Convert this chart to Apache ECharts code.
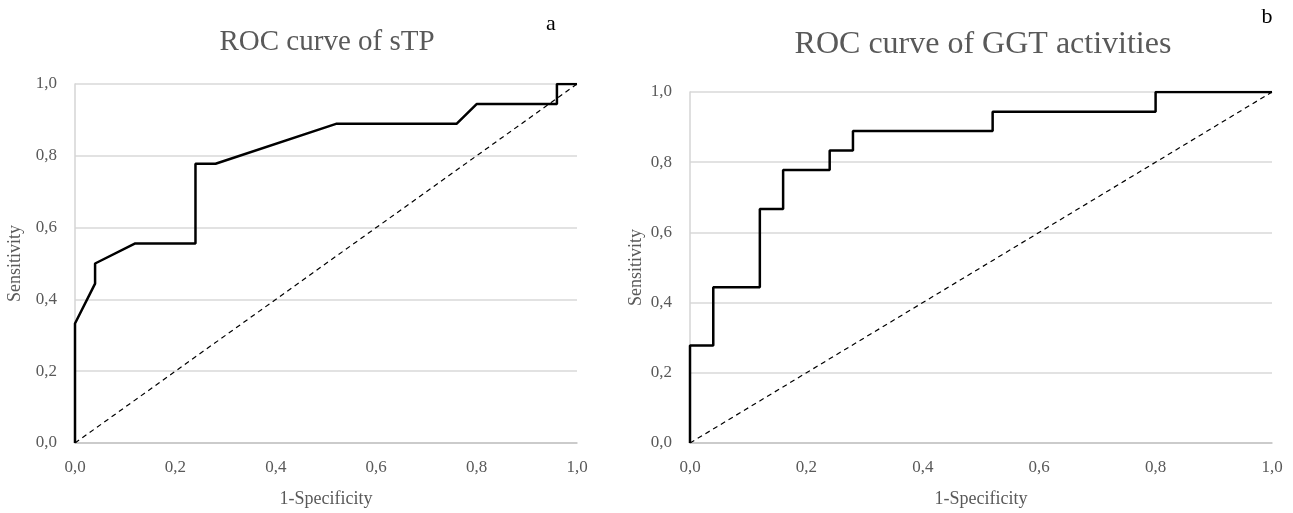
<!DOCTYPE html>
<html>
<head>
<meta charset="utf-8">
<script src="https://cdn.jsdelivr.net/npm/echarts@6/dist/echarts.min.js"></script>
<style>
html,body{margin:0;padding:0;background:#fff;}
#c{width:1293px;height:513px;}
</style>
</head>
<body>
<div id="c"></div>
<script>
// ROC curve of sTP: [1-Specificity, Sensitivity]
const stpX = [0, 0, 0.04, 0.04, 0.12, 0.24, 0.24, 0.28, 0.52, 0.76, 0.80, 0.96, 0.96, 1.0];
const stpY = [0, 0.333, 0.444, 0.5, 0.556, 0.556, 0.778, 0.778, 0.889, 0.889, 0.944, 0.944, 1.0, 1.0];
// ROC curve of GGT activities
const ggtX = [0, 0, 0.04, 0.04, 0.12, 0.12, 0.16, 0.16, 0.24, 0.24, 0.28, 0.28, 0.52, 0.52, 0.80, 0.80, 1.0];
const ggtY = [0, 0.278, 0.278, 0.444, 0.444, 0.667, 0.667, 0.778, 0.778, 0.833, 0.833, 0.889, 0.889, 0.944, 0.944, 1.0, 1.0];
// reference diagonal
const diagX = [0, 1];
const diagY = [0, 1];
const titles = ['ROC curve of sTP', 'ROC curve of GGT activities'];
const panelLetters = ['a', 'b'];
const xName = '1-Specificity';
const yName = 'Sensitivity';

const zip = (xs, ys) => xs.map((x, i) => [x, ys[i]]);
const FONT = '"Liberation Serif", "DejaVu Serif", serif';
const GREY = '#595959';
const fmt = v => v.toFixed(1).replace('.', ',');

function xAxis(gi) {
  return {
    gridIndex: gi, type: 'value', min: 0, max: 1, interval: 0.2,
    name: xName, nameLocation: 'middle', nameGap: 47,
    nameTextStyle: { fontFamily: FONT, fontSize: 18, color: GREY },
    axisLine: { show: true, lineStyle: { color: '#c4c4c4', width: 1.5 } },
    axisTick: { show: false },
    axisLabel: { formatter: fmt, fontFamily: FONT, fontSize: 17, color: GREY, margin: 16 },
    splitLine: { show: false }
  };
}
function yAxis(gi, nameGap) {
  return {
    gridIndex: gi, type: 'value', min: 0, max: 1, interval: 0.2,
    name: yName, nameLocation: 'middle', nameGap: nameGap, nameRotate: 90,
    nameTextStyle: { fontFamily: FONT, fontSize: 18, color: GREY },
    axisLine: { show: true, lineStyle: { color: '#d4d4d4', width: 1.5 } },
    axisTick: { show: false },
    axisLabel: { formatter: fmt, fontFamily: FONT, fontSize: 17, color: GREY, margin: 18 },
    splitLine: { show: true, lineStyle: { color: '#d9d9d9', width: 1.5 } }
  };
}
const curveStyle = { color: '#000', width: 2.5 };
const diagStyle = { color: '#000', width: 1.2, type: [5, 4] };

const chart = echarts.init(document.getElementById('c'), null, { renderer: 'canvas' });
chart.setOption({
  animation: false,
  backgroundColor: '#fff',
  title: [
    { text: titles[0], left: 322, top: 23, textAlign: 'center',
      textStyle: { fontFamily: FONT, fontSize: 29, fontWeight: 'normal', color: GREY } },
    { text: titles[1], left: 978, top: 24, textAlign: 'center',
      textStyle: { fontFamily: FONT, fontSize: 32, fontWeight: 'normal', color: GREY } },
    { text: panelLetters[0], left: 546, top: 8, textAlign: 'center',
      textStyle: { fontFamily: FONT, fontSize: 22, fontWeight: 'normal', color: '#000' } },
    { text: panelLetters[1], left: 1262, top: 1, textAlign: 'center',
      textStyle: { fontFamily: FONT, fontSize: 22, fontWeight: 'normal', color: '#000' } }
  ],
  grid: [
    { left: 75, right: 1293 - 577, top: 84, bottom: 68 },
    { left: 690, right: 1293 - 1272, top: 92, bottom: 68 }
  ],
  xAxis: [xAxis(0), xAxis(1)],
  yAxis: [yAxis(0, 51), yAxis(1, 45)],
  series: [
    { type: 'line', xAxisIndex: 0, yAxisIndex: 0, data: zip(diagX, diagY), symbol: 'none', lineStyle: diagStyle, z: 2 },
    { type: 'line', xAxisIndex: 0, yAxisIndex: 0, data: zip(stpX, stpY), symbol: 'none', lineStyle: curveStyle, z: 3 },
    { type: 'line', xAxisIndex: 1, yAxisIndex: 1, data: zip(diagX, diagY), symbol: 'none', lineStyle: diagStyle, z: 2 },
    { type: 'line', xAxisIndex: 1, yAxisIndex: 1, data: zip(ggtX, ggtY), symbol: 'none', lineStyle: curveStyle, z: 3 }
  ]
});
</script>
</body>
</html>
